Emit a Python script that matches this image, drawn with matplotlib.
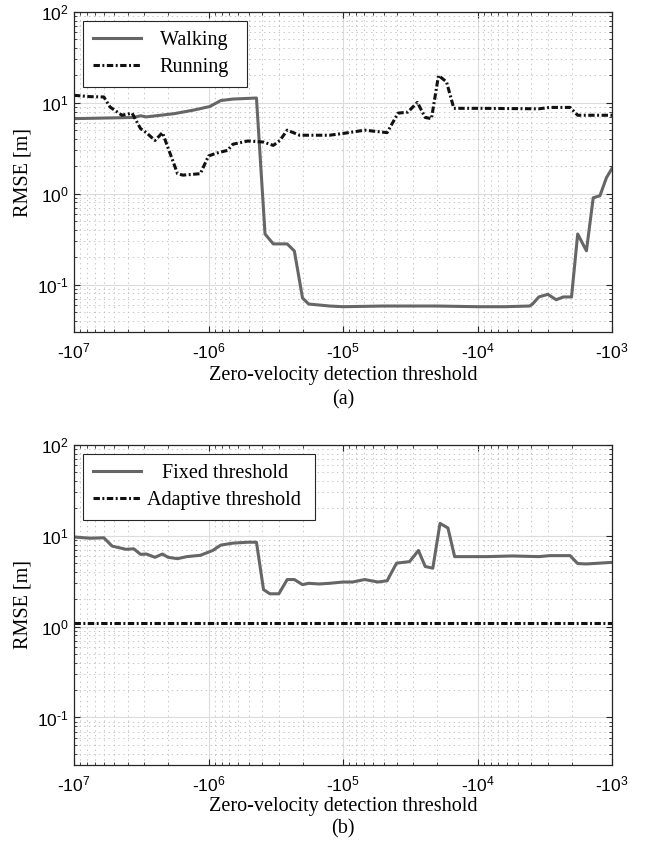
import matplotlib
matplotlib.use('Agg')
import matplotlib.pyplot as plt
import matplotlib.ticker as mticker
import numpy as np

plt.rcParams['font.family'] = ['Liberation Serif', 'DejaVu Serif']
plt.rcParams['mathtext.fontset'] = 'custom'
plt.rcParams['mathtext.rm'] = 'Liberation Sans'
plt.rcParams['mathtext.it'] = 'Liberation Sans:italic'
plt.rcParams['mathtext.bf'] = 'Liberation Sans:bold'
plt.rcParams['lines.scale_dashes'] = False

# (a) walking / running
walk_thr = [-1.0e7, -6.0e6, -3.6e6, -3.2e6, -2.9e6, -1.8e6, -1.3e6, -9.8e5, -8.1e5,
            -6.6e5, -4.4e5, -3.8e5, -3.3e5, -2.6e5, -2.3e5, -2.0e5, -1.8e5, -1.26e5,
            -1.0e5, -5.0e4, -2.0e4, -1.0e4, -6.3e3, -4.1e3, -3.9e3, -3.5e3, -3.0e3,
            -2.6e3, -2.3e3, -2.0e3, -1.8e3, -1.55e3, -1.38e3, -1.23e3, -1.1e3, -1.0e3]
walk_rmse = [6.7, 6.8, 6.9, 7.2, 7.0, 7.6, 8.3, 9.1, 10.6,
             11.0, 11.3, 0.36, 0.28, 0.28, 0.234, 0.071, 0.061, 0.058,
             0.057, 0.058, 0.058, 0.057, 0.057, 0.058, 0.061, 0.073, 0.078,
             0.068, 0.073, 0.073, 0.36, 0.235, 0.90, 0.95, 1.5, 1.9]

run_thr = [-1.0e7, -7.6e6, -6.0e6, -5.4e6, -4.4e6, -3.7e6, -3.2e6, -2.9e6, -2.5e6,
           -2.2e6, -1.7e6, -1.55e6, -1.15e6, -1.0e6, -8.7e5, -7.2e5, -6.6e5, -5.1e5,
           -3.9e5, -3.3e5, -2.95e5, -2.6e5, -2.1e5, -1.26e5, -1.0e5, -6.9e4, -4.7e4,
           -3.9e4, -3.3e4, -2.8e4, -2.45e4, -2.2e4, -1.95e4, -1.7e4, -1.5e4, -9.5e3,
           -3.5e3, -2.9e3, -2.05e3, -1.8e3, -1.0e3]
run_rmse = [12.1, 11.7, 11.6, 9.0, 7.3, 7.7, 5.2, 4.7, 3.85,
            4.7, 1.66, 1.6, 1.66, 2.6, 2.8, 3.0, 3.5, 3.8,
            3.7, 3.4, 3.85, 5.0, 4.4, 4.4, 4.6, 5.0, 4.7,
            7.7, 7.9, 10.1, 6.9, 6.7, 20.0, 17.0, 8.7, 8.7,
            8.6, 8.9, 8.9, 7.3, 7.3]

# (b) fixed / adaptive
fixed_thr = [-1.0e7, -7.6e6, -6.0e6, -5.2e6, -4.1e6, -3.6e6, -3.2e6, -2.9e6, -2.5e6,
             -2.2e6, -2.0e6, -1.7e6, -1.45e6, -1.15e6, -9.3e5, -8.1e5, -6.6e5, -5.1e5,
             -4.4e5, -3.9e5, -3.5e5, -3.0e5, -2.6e5, -2.3e5, -2.0e5, -1.8e5, -1.5e5,
             -1.26e5, -1.0e5, -8.5e4, -6.9e4, -5.5e4, -4.7e4, -4.0e4, -3.2e4, -2.75e4,
             -2.45e4, -2.15e4, -1.9e4, -1.66e4, -1.48e4, -8.5e3, -5.5e3, -3.5e3, -2.9e3,
             -2.05e3, -1.8e3, -1.55e3, -1.0e3]
fixed_rmse = [9.7, 9.4, 9.5, 7.7, 7.1, 7.2, 6.25, 6.3, 5.8,
              6.3, 5.8, 5.6, 5.9, 6.1, 6.9, 7.9, 8.3, 8.5,
              8.5, 2.56, 2.3, 2.3, 3.3, 3.3, 2.9, 3.0, 2.95,
              3.0, 3.1, 3.1, 3.3, 3.1, 3.2, 5.0, 5.2, 6.9,
              4.6, 4.4, 13.7, 12.2, 5.9, 5.9, 6.0, 5.9, 6.05,
              6.05, 4.95, 4.9, 5.1]
adaptive_thr = [-1.0e7, -1.0e3]
adaptive_rmse = [1.1, 1.1]

xtick_vals = [-1e7, -1e6, -1e5, -1e4, -1e3]
xtick_labels = ['-10$^{7}$', '-10$^{6}$', '-10$^{5}$', '-10$^{4}$', '-10$^{3}$']
ytick_vals = [0.1, 1, 10, 100]
ytick_labels = ['10$^{\\text{-}1}$', '10$^{0}$', '10$^{1}$', '10$^{2}$']

gray = '#666666'
dashdot = (0, (4.6, 1.8, 1.4, 1.8))


def style_axes(ax, xlabelpad=3):
    ax.set_xscale('log')
    ax.set_yscale('log')
    ax.set_xlim(1e7, 1e3)
    ax.set_ylim(0.03, 100)
    ax.set_xticks([-v for v in xtick_vals])
    ax.set_xticklabels(xtick_labels, family='Liberation Sans', fontsize=12.5)
    ax.set_yticks(ytick_vals)
    ax.set_yticklabels(ytick_labels, family='Liberation Sans', fontsize=12.5)
    ax.xaxis.set_minor_locator(mticker.LogLocator(base=10, subs=np.arange(2, 10)))
    ax.yaxis.set_minor_locator(mticker.LogLocator(base=10, subs=np.arange(2, 10)))
    ax.xaxis.set_minor_formatter(mticker.NullFormatter())
    ax.yaxis.set_minor_formatter(mticker.NullFormatter())
    ax.tick_params(which='both', direction='in', top=True, right=True, color='#262626')
    ax.tick_params(which='major', length=4, width=0.8)
    ax.tick_params(axis='x', which='major', pad=7)
    ax.tick_params(axis='y', which='major', pad=4)
    ax.tick_params(which='minor', length=2.5, width=0.6)
    ax.grid(True, which='major', color='#dcdcdc', lw=0.8, ls='-')
    ax.grid(True, which='minor', color='#bdbdbd', lw=0.6, ls=(0, (1, 2.5)))
    ax.set_axisbelow(True)
    for sp in ax.spines.values():
        sp.set_color('#262626')
        sp.set_linewidth(0.9)
    ax.set_xlabel('Zero-velocity detection threshold', fontsize=14.5,
                  labelpad=xlabelpad)
    ax.set_ylabel('RMSE [m]', fontsize=14.5, labelpad=3)


def add_legend(ax, pad):
    leg = ax.legend(loc='upper left', fontsize=14.5, frameon=True, fancybox=False,
                    edgecolor='#262626', framealpha=1, handlelength=2.4,
                    handletextpad=pad, borderaxespad=0.45, labelspacing=0.4,
                    borderpad=0.5)
    leg.get_frame().set_linewidth(0.8)
    return leg


fig = plt.figure(figsize=(6.52, 8.44), dpi=100)

ax1 = fig.add_axes([0.1135, 0.6066, 0.8252, 0.3792])
ax1.plot([-v for v in walk_thr], walk_rmse, color=gray, lw=2.2, label='Walking  ')
ax1.plot([-v for v in run_thr], run_rmse, color='#111111', lw=2.2, ls=dashdot,
         label='Running')
style_axes(ax1)
add_legend(ax1, 0.9)

ax2 = fig.add_axes([0.1135, 0.0936, 0.8252, 0.3792])
ax2.plot([-v for v in fixed_thr], fixed_rmse, color=gray, lw=2.2,
         label='   Fixed threshold')
ax2.plot([-v for v in adaptive_thr], adaptive_rmse, color='#111111', lw=2.2,
         ls=dashdot, label='Adaptive threshold ')
style_axes(ax2, xlabelpad=2)
add_legend(ax2, 0.25)

fig.text(0.526, 1 - 400 / 844, '(a)', ha='center', va='center', fontsize=14.5)
fig.text(0.526, 1 - 829 / 844, '(b)', ha='center', va='center', fontsize=14.5)

fig.savefig('out.png', dpi=100)
